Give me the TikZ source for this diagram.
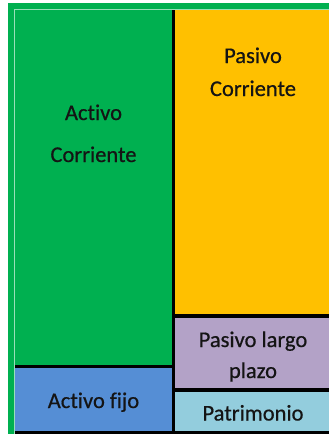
\documentclass[tikz,border=0pt]{standalone}
\usepackage{fontspec}
\setmainfont{Carlito}[Ligatures={NoCommon}]
\newfontfamily\lblfont{Carlito}[Ligatures={NoCommon}, FakeBold=0.6]
\definecolor{gverde}{HTML}{00B050}
\definecolor{gamar}{HTML}{FFC000}
\definecolor{gazul}{HTML}{558ED5}
\definecolor{glila}{HTML}{B3A2C7}
\definecolor{gceleste}{HTML}{93CDDD}
\definecolor{gtexto}{HTML}{141414}
\tikzset{
  lbl/.style={anchor=base, inner sep=0pt, text=gtexto, font=\lblfont\fontsize{22.5}{27}\selectfont},
  sep/.style={fill=black}
}
\begin{document}
\begin{tikzpicture}[x=1pt,y=-1pt]
\useasboundingbox (0,0) rectangle (329,434);
\fill[white] (0,0) rectangle (329,434);
% outer green frame
\fill[gverde] (8,3) rectangle (329,434);
% cells
\fill[gverde] (15,10) rectangle (172,365);
\fill[gazul] (15,368) rectangle (172,431);
\fill[gamar] (175,10) rectangle (329,314);
\fill[glila] (175,318) rectangle (329,388);
\fill[gceleste] (175,392) rectangle (329,431);
% black separators
\fill[sep] (172,10) rectangle (175,434);
\fill[sep] (15,365) rectangle (172,368);
\fill[sep] (175,314) rectangle (329,318);
\fill[sep] (175,388) rectangle (329,392);
\fill[sep] (15,431) rectangle (329,434);
% faint inner outline
\draw[white, opacity=0.6, line width=1pt] (14.5,434) -- (14.5,9.5) -- (329,9.5);
% labels
\node[lbl] (ac1) at (93.5,120) {Activo};
\node[lbl] (ac2) at (93.5,162) {Corriente};
\node[lbl] (pc1) at (253,63) {Pasivo};
\node[lbl] (pc2) at (253,96) {Corriente};
\node[lbl] (pl1) at (253,347) {Pasivo largo};
\node[lbl] (pl2) at (253,378) {plazo};
\node[lbl] (af) at (93.5,408) {Activo fijo};
\node[lbl] (pa) at (253,420.5) {Patrimonio};
\end{tikzpicture}
\end{document}
